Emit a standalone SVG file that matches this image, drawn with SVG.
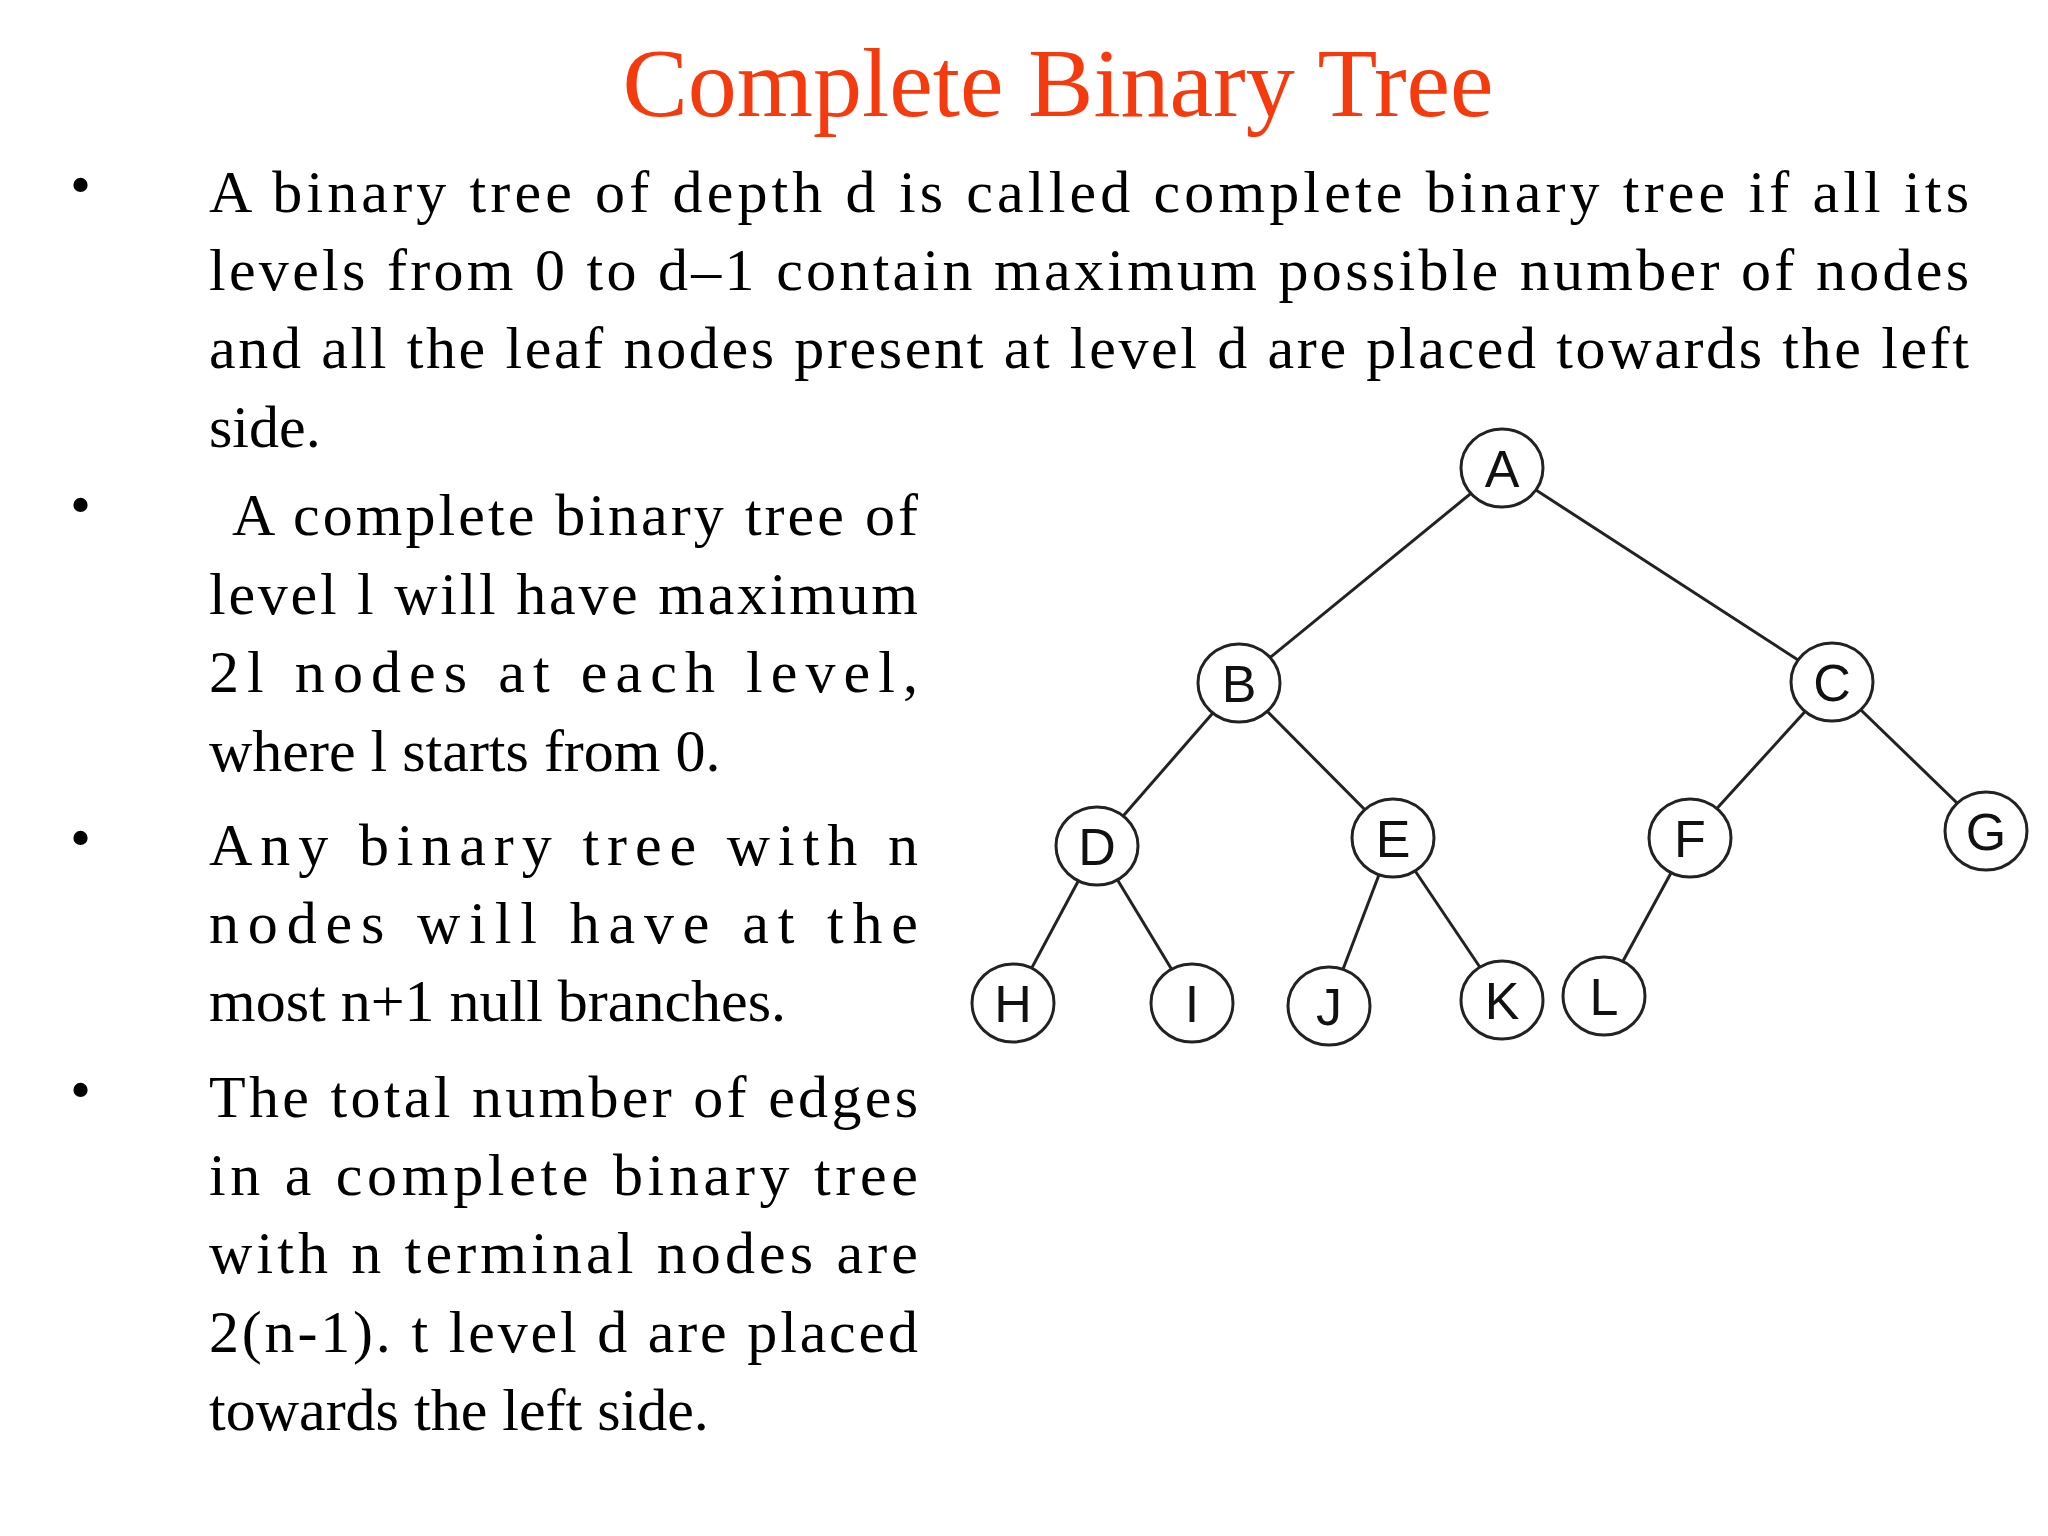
<svg xmlns="http://www.w3.org/2000/svg" width="2048" height="1536" viewBox="0 0 2048 1536">
<style>
.t{font-family:"Liberation Serif",serif;font-size:60px;fill:#000}
.n ellipse{fill:#fff;stroke:#222;stroke-width:3}
.n text{font-family:"Liberation Sans",sans-serif;font-size:52px;fill:#111;text-anchor:middle}
#edges line{stroke:#222;stroke-width:3}
</style>
<rect width="2048" height="1536" fill="#fff"/>
<text x="1058" y="116" font-family="Liberation Serif,serif" font-size="98" fill="#F53A0E" text-anchor="middle">Complete Binary Tree</text>
<g class="t">
<text x="70" y="205">•</text><text x="70" y="525">•</text><text x="70" y="858">•</text><text x="70" y="1110">•</text>
<text x="209" y="212" textLength="1760" lengthAdjust="spacing">A binary tree of depth d is called complete binary tree if all its</text>
<text x="209" y="290" textLength="1760" lengthAdjust="spacing">levels from 0 to d–1 contain maximum possible number of nodes</text>
<text x="209" y="368" textLength="1760" lengthAdjust="spacing">and all the leaf nodes present at level d are placed towards the left</text>
<text x="209" y="447">side.</text>
<text x="232" y="535" textLength="686" lengthAdjust="spacing">A complete binary tree of</text>
<text x="209" y="614" textLength="709" lengthAdjust="spacing">level l will have maximum</text>
<text x="209" y="692" textLength="709" lengthAdjust="spacing">2l nodes at each level,</text>
<text x="209" y="771">where l starts from 0.</text>
<text x="209" y="865" textLength="709" lengthAdjust="spacing">Any binary tree with n</text>
<text x="209" y="943" textLength="709" lengthAdjust="spacing">nodes will have at the</text>
<text x="209" y="1021">most n+1 null branches.</text>
<text x="209" y="1117" textLength="709" lengthAdjust="spacing">The total number of edges</text>
<text x="209" y="1195" textLength="709" lengthAdjust="spacing">in a complete binary tree</text>
<text x="209" y="1273" textLength="709" lengthAdjust="spacing">with n terminal nodes are</text>
<text x="209" y="1352" textLength="709" lengthAdjust="spacing">2(n-1). t level d are placed</text>
<text x="209" y="1430">towards the left side.</text>
</g>
<g id="edges">
<line x1="1502" y1="468" x2="1239" y2="683"/>
<line x1="1502" y1="468" x2="1832" y2="682"/>
<line x1="1239" y1="683" x2="1097" y2="846"/>
<line x1="1239" y1="683" x2="1393" y2="838"/>
<line x1="1832" y1="682" x2="1690" y2="838"/>
<line x1="1832" y1="682" x2="1986" y2="831"/>
<line x1="1097" y1="846" x2="1013" y2="1003"/>
<line x1="1097" y1="846" x2="1192" y2="1003"/>
<line x1="1393" y1="838" x2="1329" y2="1006"/>
<line x1="1393" y1="838" x2="1502" y2="1000"/>
<line x1="1690" y1="838" x2="1604" y2="996"/>
</g>
<g class="n">
<g id="A"><ellipse cx="1502" cy="468" rx="41" ry="39"/><text x="1502" y="487">A</text></g>
<g id="B"><ellipse cx="1239" cy="683" rx="41" ry="39"/><text x="1239" y="702">B</text></g>
<g id="C"><ellipse cx="1832" cy="682" rx="41" ry="39"/><text x="1832" y="701">C</text></g>
<g id="D"><ellipse cx="1097" cy="846" rx="41" ry="39"/><text x="1097" y="865">D</text></g>
<g id="E"><ellipse cx="1393" cy="838" rx="41" ry="39"/><text x="1393" y="857">E</text></g>
<g id="F"><ellipse cx="1690" cy="838" rx="41" ry="39"/><text x="1690" y="857">F</text></g>
<g id="G"><ellipse cx="1986" cy="831" rx="41" ry="39"/><text x="1986" y="850">G</text></g>
<g id="H"><ellipse cx="1013" cy="1003" rx="41" ry="39"/><text x="1013" y="1022">H</text></g>
<g id="I"><ellipse cx="1192" cy="1003" rx="41" ry="39"/><text x="1192" y="1022">I</text></g>
<g id="J"><ellipse cx="1329" cy="1006" rx="41" ry="39"/><text x="1329" y="1025">J</text></g>
<g id="K"><ellipse cx="1502" cy="1000" rx="41" ry="39"/><text x="1502" y="1019">K</text></g>
<g id="L"><ellipse cx="1604" cy="996" rx="41" ry="39"/><text x="1604" y="1015">L</text></g>
</g>
</svg>
